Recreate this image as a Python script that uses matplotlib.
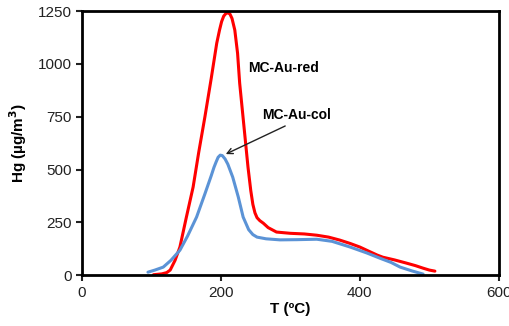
import matplotlib
matplotlib.use('Agg')
import matplotlib.pyplot as plt

plt.rcParams['font.family'] = ['Liberation Sans', 'DejaVu Sans']

# MC-Au-red
red_T = [103, 115, 122, 127, 134, 141, 150, 160, 168, 177, 186, 194, 198, 201, 204, 207, 210, 213,
         216, 220, 224, 227, 233, 239, 243, 246, 249, 252, 256, 261, 268, 280, 300, 320, 338, 355,
         371, 386, 400, 415, 425, 433, 450, 467, 480, 491, 500, 508]
red_hg = [2, 6, 12, 24, 70, 133, 270, 417, 580, 750, 930, 1098, 1160, 1200, 1226, 1238, 1242, 1236,
          1215, 1160, 1050, 909, 710, 511, 400, 335, 295, 272, 258, 246, 225, 204, 198, 195, 189,
          180, 166, 150, 133, 110, 95, 85, 72, 57, 45, 33, 24, 19]

# MC-Au-col
col_T = [95, 105, 117, 128, 141, 152, 165, 177, 186, 190, 193, 196, 199, 202, 206, 210, 217, 225,
         232, 240, 246, 252, 265, 285, 310, 338, 360, 386, 410, 429, 445, 458, 475, 491]
col_hg = [14, 24, 38, 70, 118, 185, 275, 385, 470, 510, 535, 558, 568, 566, 550, 525, 464, 370,
          275, 215, 192, 180, 172, 167, 168, 170, 160, 133, 105, 80, 60, 38, 20, 5]

fig = plt.figure(figsize=(5.09, 3.26), dpi=100)
ax = fig.add_axes([0.161, 0.156, 0.819, 0.81])

ax.plot(red_T, red_hg, color='#ff0000', lw=2.2, solid_capstyle='round', solid_joinstyle='round')
ax.plot(col_T, col_hg, color='#5b93d6', lw=2.2, solid_capstyle='round', solid_joinstyle='round')

ax.set_xlim(0, 600)
ax.set_ylim(0, 1250)
ax.set_xticks([0, 200, 400, 600])
ax.set_yticks([0, 250, 500, 750, 1000, 1250])
ax.tick_params(labelsize=11, width=1.5, length=4, colors='#222222')
for s in ax.spines.values():
    s.set_linewidth(2)
    s.set_color('black')

ax.set_xlabel('T (ºC)', fontsize=11, fontweight='bold', labelpad=2)
ax.set_ylabel('Hg (µg/m$\\mathbf{^3}$)', fontsize=11, fontweight='bold', labelpad=6)

ax.text(239, 980, 'MC-Au-red', fontsize=10, fontweight='bold', va='center')
ax.annotate('MC-Au-col', xy=(207, 573), xytext=(260, 758), fontsize=10, fontweight='bold',
            va='center',
            arrowprops=dict(arrowstyle='->', color='#222222', lw=1,
                            relpos=(0.45, 0.0), shrinkA=2, shrinkB=0))

fig.savefig('out.png', dpi=100)
